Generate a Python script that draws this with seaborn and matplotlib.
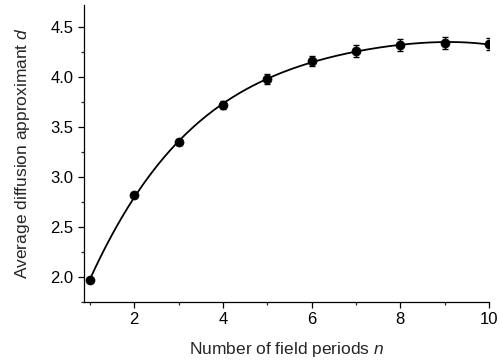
import numpy as np
import pandas as pd
import matplotlib
matplotlib.use("Agg")
import matplotlib.pyplot as plt
import seaborn as sns
from matplotlib.ticker import MultipleLocator

n_periods = [1, 2, 3, 4, 5, 6, 7, 8, 9, 10]
d_values = [1.97, 2.82, 3.35, 3.72, 3.98, 4.16, 4.26, 4.32, 4.34, 4.33]
d_errors = [0.02, 0.02, 0.03, 0.04, 0.05, 0.05, 0.06, 0.06, 0.06, 0.06]
x_ticks = [2, 4, 6, 8, 10]
y_ticks = [2.0, 2.5, 3.0, 3.5, 4.0, 4.5]

sns.set_theme(style="ticks")
plt.rcParams['font.family'] = ['Liberation Sans', 'DejaVu Sans']
plt.rcParams['mathtext.fontset'] = 'custom'
plt.rcParams['mathtext.rm'] = 'Liberation Sans'
plt.rcParams['mathtext.it'] = 'Liberation Sans:italic'

df = pd.DataFrame({"n": n_periods, "d": d_values, "err": d_errors})

coef = np.polyfit(df["n"], df["d"], 4)
xs = np.linspace(1, 10, 300)
fit = pd.DataFrame({"n": xs, "d": np.polyval(coef, xs)})

fig = plt.figure(figsize=(5.03, 3.6), dpi=100)
ax = fig.add_axes([0.167, 0.161, 0.805, 0.825])

sns.lineplot(data=fit, x="n", y="d", ax=ax, color="black", linewidth=1.3)
ax.errorbar(df["n"], df["d"], yerr=df["err"], fmt="none", ecolor="black",
            elinewidth=1.0, capsize=2.5, capthick=1.0)
sns.scatterplot(data=df, x="n", y="d", ax=ax, color="black", s=42,
                edgecolor="black", zorder=5)

ax.set_xlim(0.865, 10)
ax.set_ylim(1.75, 4.72)
ax.set_xticks(x_ticks)
ax.set_yticks(y_ticks)
ax.set_yticklabels([f"{v:.1f}" for v in y_ticks])
ax.xaxis.set_minor_locator(MultipleLocator(1))
ax.yaxis.set_minor_locator(MultipleLocator(0.25))
ax.tick_params(which="major", direction="out", length=4, width=0.9, labelsize=12, colors="black")
ax.tick_params(which="minor", direction="out", length=2.5, width=0.9)
for s in ["top", "right"]:
    ax.spines[s].set_visible(False)
for s in ["left", "bottom"]:
    ax.spines[s].set_linewidth(0.9)
    ax.spines[s].set_color("black")

ax.set_xlabel("Number of field periods $n$", fontsize=12.5, labelpad=9)
ax.set_ylabel("Average diffusion approximant $d$", fontsize=12.5, labelpad=13)

fig.savefig("out.png", dpi=100)
